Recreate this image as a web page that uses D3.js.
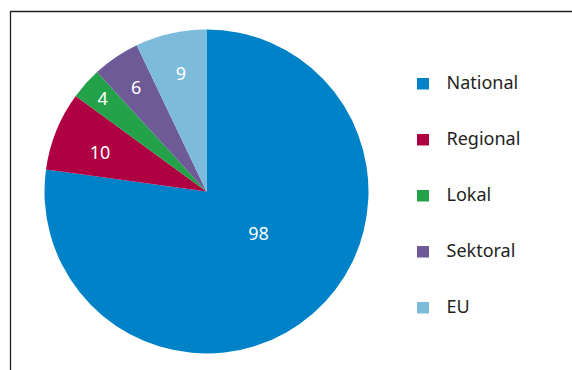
<!DOCTYPE html>
<html>
<head>
<meta charset="utf-8">
<script src="https://cdn.jsdelivr.net/npm/d3@7"></script>
<style>
  html, body { margin: 0; padding: 0; background: #fff; }
  svg { display: block; font-family: "Noto Sans", "Open Sans", sans-serif; }
</style>
</head>
<body>
<svg id="chart" width="572" height="370"></svg>
<script>
// Number of items per level
const categories = ["National", "Regional", "Lokal", "Sektoral", "EU"];
const values = [98, 10, 4, 6, 9];
const colors = ["#0082c9", "#af0042", "#23a24a", "#6d5a96", "#7dbbda"];

// Label placement inside each slice: [fraction of radius, angular nudge in degrees]
const labelPlacement = [[0.415, -9.7], [0.70, -1.8], [0.86, 0], [0.775, 0], [0.747, 0.5]];

const width = 572, height = 370;
const cx = 206.5, cy = 191.5, radius = 162;

const svg = d3.select("#chart");

// Frame lines (top and left)
svg.append("path")
  .attr("d", `M10.5,${height}V11.5H${width}`)
  .attr("fill", "none")
  .attr("stroke", "#231f20")
  .attr("stroke-width", 1.3);

const data = categories.map((c, i) => ({ category: c, value: values[i], color: colors[i], place: labelPlacement[i] }));

const pie = d3.pie().value(d => d.value).sort(null);
const arcs = pie(data);
const arc = d3.arc().innerRadius(0).outerRadius(radius);

const g = svg.append("g").attr("transform", `translate(${cx},${cy})`);

g.selectAll("path.slice")
  .data(arcs)
  .join("path")
  .attr("class", "slice")
  .attr("d", arc)
  .attr("fill", d => d.data.color);

g.selectAll("text.value")
  .data(arcs)
  .join("text")
  .attr("class", "value")
  .attr("transform", d => {
    const mid = (d.startAngle + d.endAngle) / 2 + d.data.place[1] * Math.PI / 180;
    const r = radius * d.data.place[0];
    return `translate(${r * Math.sin(mid)},${-r * Math.cos(mid)})`;
  })
  .attr("text-anchor", "middle")
  .attr("dy", "0.36em")
  .attr("fill", "#fff")
  .attr("font-size", 18)
  .text(d => d.data.value);

// Legend
const legend = svg.append("g").attr("transform", "translate(417,78)");
const row = legend.selectAll("g")
  .data(data)
  .join("g")
  .attr("transform", (d, i) => `translate(0,${i * 56})`);

row.append("rect")
  .attr("width", 12)
  .attr("height", 11.5)
  .attr("fill", d => d.color);

row.append("text")
  .attr("x", 29.5)
  .attr("y", 11)
  .attr("fill", "#231f20")
  .attr("font-size", 18)
  .text(d => d.category);
</script>
</body>
</html>
